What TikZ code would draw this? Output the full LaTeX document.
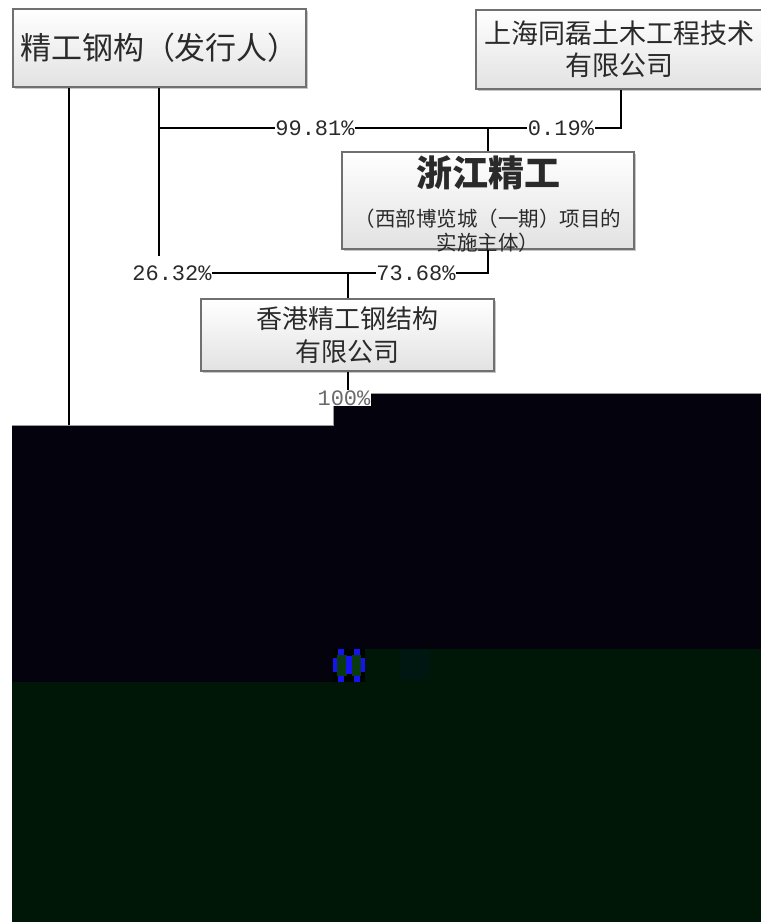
\documentclass[tikz,border=0pt]{standalone}
\usepackage{fontspec}
\setmainfont{Noto Sans CJK SC}
\newfontfamily\pctfont{Liberation Mono}
\usetikzlibrary{shadows}
\definecolor{boxline}{HTML}{707070}
\definecolor{boxbot}{HTML}{E2E2E2}
\definecolor{txt}{HTML}{2A2A2A}
\definecolor{voidblack}{HTML}{04030D}
\definecolor{voidgreen}{HTML}{001707}
\definecolor{glitchblue}{HTML}{1414F0}
\definecolor{glitchgreen}{HTML}{0A3A12}
\definecolor{edgegray}{HTML}{9A9A9A}
\tikzset{
  entity/.style={draw=boxline, line width=1.1pt, top color=white, bottom color=boxbot,
    text=txt, align=center, inner sep=0pt,
    drop shadow={shadow xshift=2pt, shadow yshift=-2pt, opacity=0.22, fill=black}},
  link/.style={draw=black, line width=1.3pt},
  pct/.style={fill=white, inner sep=0.6pt, text=txt, font=\pctfont\fontsize{22}{22}\selectfont},
  boxtext/.style={text=txt, align=center, inner sep=0pt},
}
\begin{document}
\begin{tikzpicture}[x=1pt,y=-1pt]
\fill[white] (0,0) rectangle (761,922);
\clip (0,0) rectangle (761,922);

% boxes
\node[entity, minimum width=293pt, minimum height=78pt, font=\fontsize{31}{31}\selectfont] (b1) at (159.5,48) {精工钢构（发行人）};
\node[entity, minimum width=286pt, minimum height=79pt, font=\fontsize{27}{32}\selectfont] (b4) at (619,49.5) {上海同磊土木工程技术\\有限公司};
\node[entity, minimum width=292pt, minimum height=97pt] (b2) at (488,200.5) {};
\node[boxtext, font=\fontsize{36}{36}\selectfont\bfseries] (b2title) at (488,173) {浙江精工};
\node[boxtext, font=\fontsize{20.5}{24}\selectfont] (b2sub) at (488,231) {（西部博览城（一期）项目的\\实施主体）};
\node[entity, minimum width=293pt, minimum height=72pt, font=\fontsize{26}{33}\selectfont] (b3) at (347.5,335) {香港精工钢结构\\有限公司};

% connector points
\coordinate (c69) at (69,425);
\coordinate (c159) at (159,256);
\coordinate (h1) at (159,128);
\coordinate (h2) at (621,128);
\coordinate (j1) at (488,128);
\coordinate (l1) at (212,273);
\coordinate (l2) at (488,273);
\coordinate (j2) at (348,273);

\draw[link] (b1.south -| c69) -- (c69);
\draw[link] (b1.south -| c159) -- (c159);
\draw[link] (h1) -- (h2) -- (b4.south -| h2);
\draw[link] (j1) -- (b2.north);
\draw[link] (l1) -- (l2) -- (b2.south);
\draw[link] (j2) -- (b3.north -| j2);

% percentage labels
\node[pct] (p9981) at (315,128) {99.81\%};
\node[pct] (p019) at (561,128) {0.19\%};
\node[pct] (p2632) at (172,273) {26.32\%};
\node[pct] (p7368) at (416,273) {73.68\%};
\node[pct] (p100) at (344,398) {100\%};
\draw[link] (b3.south -| j2) -- (p100.north -| j2);

% corrupted lower part of the image
\fill[voidblack] (12,425) -- (333,425) -- (333,393) -- (761,393) -- (761,922) -- (12,922) -- cycle;
\draw[edgegray, line width=0.8pt] (12,425) -- (333,425) -- (333,393) -- (761,393);
\fill[voidgreen] (12,682) -- (333,682) -- (333,649) -- (761,649) -- (761,922) -- (12,922) -- cycle;
\fill[black!85!voidgreen] (333,649) rectangle (365,682);
\fill[glitchgreen] (337,655) rectangle (347,676);
\fill[glitchgreen] (352,655) rectangle (361,676);
\fill[glitchblue] (333,658) rectangle (337,672);
\fill[glitchblue] (346,656) rectangle (352,674);
\fill[glitchblue] (361,658) rectangle (365,672);
\fill[glitchblue] (338,649) rectangle (344,655);
\fill[glitchblue] (354,649) rectangle (360,655);
\fill[glitchblue] (338,676) rectangle (344,682);
\fill[glitchblue] (354,676) rectangle (360,682);
\fill[voidgreen!70!teal!40!black] (400,650) rectangle (430,680);

% label partly over the black area
\node[pct, fill=white, text=txt!70] at (p100) {100\%};
\end{tikzpicture}
\end{document}
